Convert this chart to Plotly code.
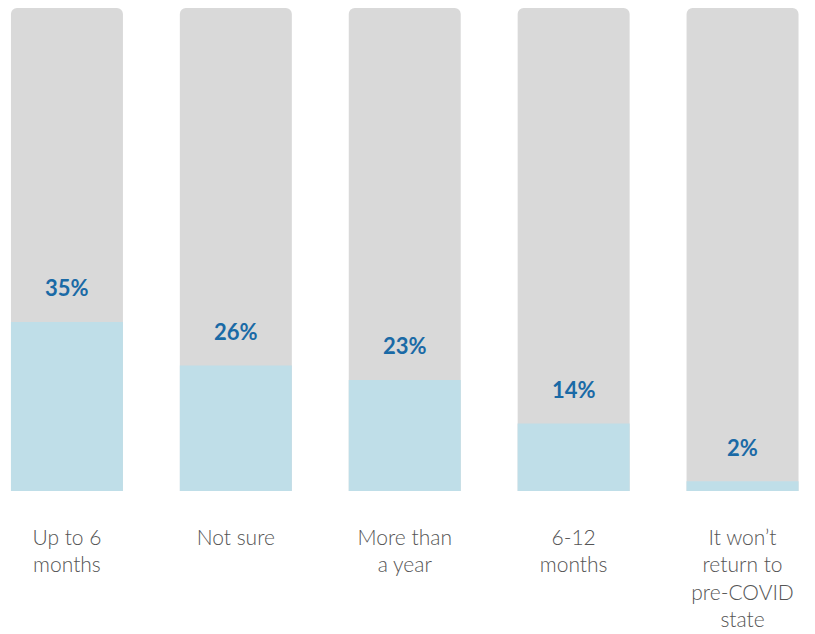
import plotly.graph_objects as go

categories = ["Up to 6<br>months", "Not sure", "More than<br>a year", "6-12<br>months",
              "It won’t<br>return to<br>pre-COVID<br>state"]
values = [35, 26, 23, 14, 2]
value_labels = ["35%", "26%", "23%", "14%", "2%"]
totals = [100, 100, 100, 100, 100]

x = list(range(len(categories)))

fig = go.Figure()
fig.add_trace(go.Bar(x=x, y=totals, marker=dict(color="#d9d9d9", cornerradius=6, line=dict(width=0)),
                     width=0.663, hoverinfo="skip"))
fig.add_trace(go.Bar(x=x, y=values, marker=dict(color="#bfdee8", cornerradius=5, line=dict(width=0)),
                     width=0.663, hoverinfo="skip"))

for xi, v, t in zip(x, values, value_labels):
    fig.add_annotation(x=xi, y=v, text=t, showarrow=False, yshift=34,
                       font=dict(family="Lato", size=22, color="#1a6aa6", weight="bold"))

fig.update_layout(
    width=807, height=626,
    barmode="overlay",
    showlegend=False,
    plot_bgcolor="white", paper_bgcolor="white",
    margin=dict(l=0, r=0, t=0, b=143),
    xaxis=dict(range=[-0.349, 4.429], tickvals=x, ticktext=categories, showgrid=False,
               zeroline=False, showline=False, ticks="", ticklabelstandoff=32, automargin=False,
               tickfont=dict(family="Lato", size=21, color="#555555", weight=300)),
    yaxis=dict(range=[0, 100], visible=False, showgrid=False, zeroline=False, automargin=False),
)

fig.write_html("out.html")
